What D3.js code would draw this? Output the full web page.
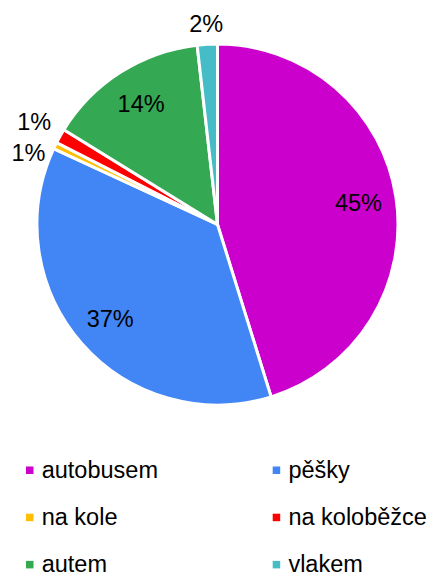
<!DOCTYPE html>
<html>
<head>
<meta charset="utf-8">
<script src="https://cdn.jsdelivr.net/npm/d3@7"></script>
<style>
    body { margin: 0; background: #fff; }
    text { font-family: Arial, "Liberation Sans", sans-serif; }
</style>
</head>
<body>
<svg id="chart" width="431" height="576"></svg>
<script>
"use strict";

let categories = ["autobusem", "pěšky", "na kole", "na koloběžce", "autem", "vlakem"];
let shares = [45.2, 36.7, 0.6, 1.3, 14.4, 1.8];
let colors = ["#cc00cc", "#4285f4", "#ffbf00", "#ff0000", "#34a853", "#46bdc6"];

let width = 431;
let height = 576;
let cx = 217.5;
let cy = 224.5;
let radius = 180.5;
let font_size = 23.5;

let svg = d3.select("#chart");
let total = d3.sum(shares);

let pie = d3.pie().sort(null).value(d => d.value);
let arcs = pie(categories.map((c, i) => ({ name: c, value: shares[i], color: colors[i] })));

let arc = d3.arc().innerRadius(0).outerRadius(radius);

let g = svg.append("g").attr("transform", "translate(" + cx + "," + cy + ")");

g.selectAll("path.slice")
    .data(arcs)
    .join("path")
    .attr("class", "slice")
    .attr("d", arc)
    .attr("fill", d => d.data.color)
    .attr("stroke", "#fff")
    .attr("stroke-width", 3)
    .attr("stroke-linejoin", "miter");

function pct(d) {
    return Math.round(d.data.value / total * 100) + "%";
}

// big slices get the label inside, small ones outside
let inside = arcs.filter(d => d.data.value / total >= 0.05);
let outside = arcs.filter(d => d.data.value / total < 0.05);

let inner_arc = d3.arc().innerRadius(radius * 0.79).outerRadius(radius * 0.79);

g.selectAll("text.inlabel")
    .data(inside)
    .join("text")
    .attr("class", "inlabel")
    .attr("transform", d => "translate(" + inner_arc.centroid(d) + ")")
    .attr("text-anchor", "middle")
    .attr("dy", "0.35em")
    .attr("font-size", font_size)
    .attr("fill", "#000")
    .text(pct);

let out_labels = g.selectAll("text.outlabel")
    .data(outside)
    .join("text")
    .attr("class", "outlabel")
    .attr("text-anchor", "middle")
    .attr("dy", "0.35em")
    .attr("font-size", font_size)
    .attr("fill", "#000")
    .text(pct);

// place outside labels so their box clears the pie, then push overlapping ones apart
let placed = [];
out_labels.each(function(d) {
    let half_w = this.getComputedTextLength() / 2;
    let half_h = font_size * 0.38;
    let a = (d.startAngle + d.endAngle) / 2;
    let s = Math.sin(a), c = -Math.cos(a);
    let r2 = radius + 10.5 + half_w * Math.abs(s) + half_h * Math.abs(c);
    placed.push({ node: this, x: s * r2, y: c * r2, left: s < 0 });
});

let min_gap = font_size * 1.35;
[true, false].forEach(side => {
    let group = placed.filter(p => p.left == side).sort((a, b) => a.y - b.y);
    for (let i = 1; i < group.length; i++) {
        if (group[i].y - group[i - 1].y < min_gap) {
            group[i].y = group[i - 1].y + min_gap;
        }
    }
});
placed.forEach(p => d3.select(p.node).attr("transform", "translate(" + p.x + "," + p.y + ")"));

// legend, two columns
let legend_cols = [26, 272.7];
let legend_top = 478;
let legend_step = 47.2;

let legend = svg.append("g");
let items = legend.selectAll("g.item")
    .data(arcs)
    .join("g")
    .attr("class", "item")
    .attr("transform", (d, i) => "translate(" + legend_cols[i % 2] + "," + (legend_top + Math.floor(i / 2) * legend_step) + ")");

items.append("rect")
    .attr("x", 0)
    .attr("y", -11.5)
    .attr("width", 7.5)
    .attr("height", 7.5)
    .attr("fill", d => d.data.color);

items.append("text")
    .attr("x", 15.7)
    .attr("y", 0)
    .attr("font-size", font_size)
    .attr("fill", "#000")
    .text(d => d.data.name);
</script>
</body>
</html>
